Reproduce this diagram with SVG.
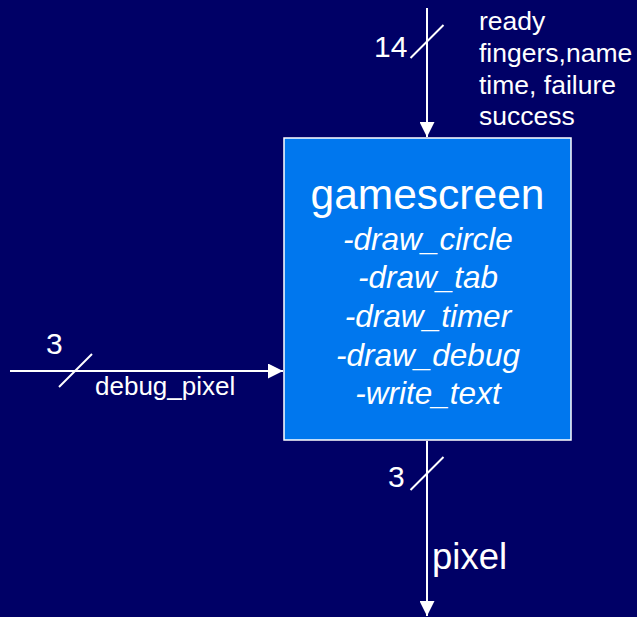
<svg xmlns="http://www.w3.org/2000/svg" width="637" height="617" viewBox="0 0 637 617">
<style>
.t{fill:#fff;font-family:"Liberation Sans",Arial,sans-serif}
.i{font-style:italic;font-size:31.5px;text-anchor:middle}
.w{stroke:#fff;stroke-width:2;fill:none}
</style>
<defs>
<marker id="ah" markerWidth="15" markerHeight="15" refX="15" refY="7.5" orient="auto" markerUnits="userSpaceOnUse">
<path d="M0,0 L15,7.5 L0,15 Z" fill="#fff"/>
</marker>
</defs>
<rect width="637" height="617" fill="#000066"/>
<g id="connectors">
<line class="w" x1="427" y1="8" x2="427" y2="137" marker-end="url(#ah)"/>
<line class="w" x1="410.5" y1="58" x2="443.5" y2="25"/>
<line class="w" x1="10" y1="371" x2="283" y2="371" marker-end="url(#ah)"/>
<line class="w" x1="59" y1="387" x2="92" y2="354"/>
<line class="w" x1="427" y1="441" x2="427" y2="616" marker-end="url(#ah)"/>
<line class="w" x1="410.5" y1="490" x2="443.5" y2="457"/>
<text class="t" x="374" y="57" font-size="30">14</text>
<text class="t" x="479" y="29.5" font-size="26.5">ready</text>
<text class="t" x="479" y="61.5" font-size="26.5">fingers,name</text>
<text class="t" x="479" y="93.5" font-size="26.5">time, failure</text>
<text class="t" x="479" y="124.5" font-size="26.5">success</text>
<text class="t" x="46" y="353.5" font-size="30">3</text>
<text class="t" x="95" y="394.5" font-size="26">debug_pixel</text>
<text class="t" x="388" y="487" font-size="30">3</text>
<text class="t" x="432" y="568.5" font-size="36.5">pixel</text>
</g>
<g id="gamescreen">
<rect x="284" y="138" width="287" height="302" fill="#0077EE" stroke="#fff" stroke-width="1.5"/>
<text class="t" x="427.5" y="208.5" font-size="42.5" text-anchor="middle">gamescreen</text>
<text class="t i" x="428" y="249.5">-draw_circle</text>
<text class="t i" x="428" y="287.5">-draw_tab</text>
<text class="t i" x="428" y="326.5">-draw_timer</text>
<text class="t i" x="428" y="365.5">-draw_debug</text>
<text class="t i" x="428" y="403.5">-write_text</text>
</g>
</svg>
